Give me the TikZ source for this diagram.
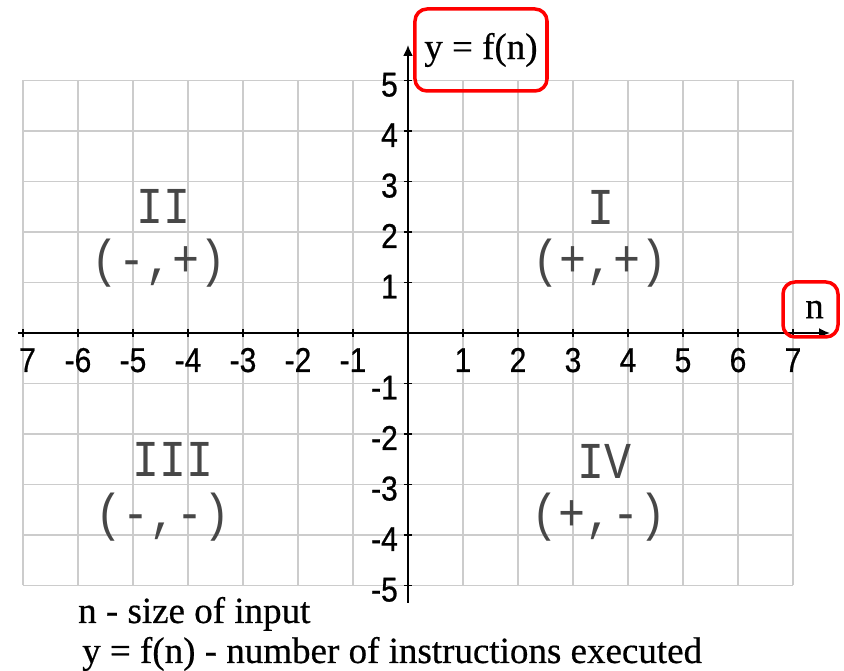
\documentclass[tikz,border=0pt]{standalone}
\usepackage{fontspec}
\setmainfont{Liberation Serif}[FakeBold=0.5]
\newfontfamily\tickfont{Liberation Sans}[FakeBold=0.7]
\newfontfamily\quadfont{Liberation Mono}
\usepackage{graphicx}
\usepackage{tikz}
\usetikzlibrary{arrows.meta}
\newcommand{\tallbox}[1]{\scalebox{1}[1.15]{#1}}
\tikzset{GRIDLINE/.style={draw=black!20, line width=1.8pt}}
\tikzset{AXIS/.style={line width=1.8pt, -{Latex[length=11pt,width=10pt]}}}
\tikzset{TICK/.style={line width=1.2pt}}
\tikzset{TICKLAB/.style={font=\tickfont\fontsize{30}{32}\selectfont, inner sep=0pt}}
\tikzset{QUAD/.style={font=\quadfont\fontsize{45}{48}\selectfont, text=black!72, inner sep=0pt}}
\tikzset{NOTE/.style={font=\fontsize{37}{40}\selectfont, inner sep=0pt, anchor=base west}}
\tikzset{REDBOX/.style={draw=red, line width=3.5pt, rounded corners=12pt, font=\fontsize{37}{40}\selectfont}}

\begin{document}
\begin{tikzpicture}[x=55pt, y=50.5pt]
    \useasboundingbox (-408pt,-338pt) rectangle (436pt,333pt);

    % grid
    \foreach \i in {-7,...,7}
        \draw[GRIDLINE] (\i,-5) -- (\i,5);
    \foreach \j in {-5,...,5}
        \draw[GRIDLINE] (-7,\j) -- (7,\j);

    % axes
    \coordinate (x_start) at (-390pt,0pt);
    \coordinate (x_end) at (422pt,0pt);
    \coordinate (y_start) at (0pt,-270pt);
    \coordinate (y_end) at (0pt,288pt);
    \draw[AXIS] (x_start) -- (x_end);
    \draw[AXIS] (y_start) -- (y_end);

    % ticks
    \foreach \i in {-7,...,7}
        \draw[TICK] ([yshift=-4pt]\i,0) -- ([yshift=4pt]\i,0);
    \foreach \j in {-5,...,5}
        \draw[TICK] ([xshift=-4pt]0,\j) -- ([xshift=4pt]0,\j);

    % numbers
    \node[TICKLAB, anchor=base, yshift=-39pt, xshift=4.5pt] (xlab_left) at (-7,0) {\tallbox{7}};
    \foreach \i in {-6,...,-1,1,2,...,7}
        \node[TICKLAB, anchor=base, yshift=-39pt] (xlab\i) at (\i,0) {\tallbox{\i}};
    \foreach \j in {-5,...,-1,1,2,...,5}
        \node[TICKLAB, anchor=base east, xshift=-10pt, yshift=-16pt] (ylab\j) at (0,\j) {\tallbox{\j}};

    % quadrants
    \node[QUAD] (q_one) at (3.51,2.48) {\tallbox{I}};
    \node[QUAD] (q_one_sign) at (3.5,1.39) {\tallbox{(+,+)}};
    \node[QUAD] (q_two) at (-4.44,2.5) {\tallbox{II}};
    \node[QUAD] (q_two_sign) at (-4.53,1.39) {\tallbox{(-,+)}};
    \node[QUAD] (q_three) at (-4.27,-2.51) {\tallbox{III}};
    \node[QUAD] (q_three_sign) at (-4.45,-3.64) {\tallbox{(-,-)}};
    \node[QUAD] (q_four) at (3.58,-2.55) {\tallbox{IV}};
    \node[QUAD] (q_four_sign) at (3.47,-3.64) {\tallbox{(+,-)}};

    % axis names
    \node[REDBOX, minimum width=132pt, minimum height=82pt] (ylabel) at (73pt,283pt) {y = f(n)};
    \node[REDBOX, minimum width=55pt, minimum height=55pt, inner sep=0pt] (nlabel) at (402.5pt,23.5pt) {\hspace*{8pt}n};

    \node[NOTE] (note_n) at (-330pt,-290pt) {n - size of input};
    \node[NOTE] (note_y) at (-326pt,-330pt) {y = f(n) - number of instructions executed};
\end{tikzpicture}
\end{document}
